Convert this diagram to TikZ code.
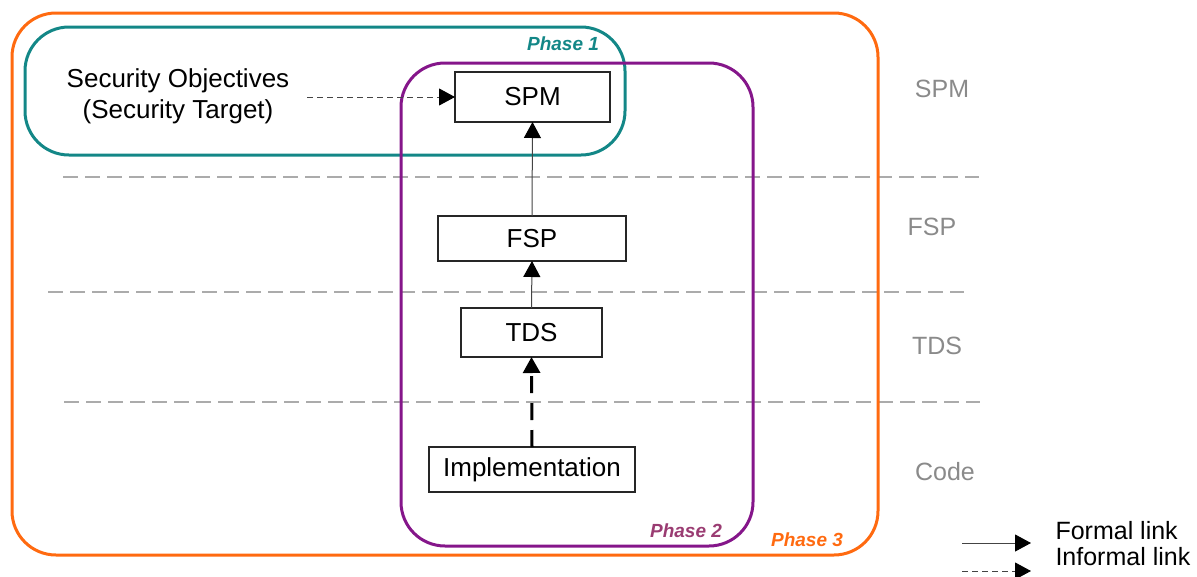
\documentclass[tikz,border=0pt]{standalone}
\usepackage{fontspec}
\setmainfont{Liberation Sans}
\usetikzlibrary{arrows.meta}
\definecolor{cOrange}{HTML}{FF6A10}
\definecolor{cTeal}{HTML}{138787}
\definecolor{cPurple}{HTML}{85168A}
\definecolor{cMauve}{HTML}{9A3C72}
\definecolor{cGrid}{HTML}{ABABAB}
\definecolor{cLabel}{HTML}{8A8A8A}
\definecolor{cLine}{HTML}{444444}
\begin{document}
\begin{tikzpicture}[x=1pt,y=-1pt,
  txt/.style={font=\fontsize{26}{31}\selectfont},
  lgd/.style={font=\fontsize{25}{31}\selectfont},
  levelbox/.style={draw=black!85, line width=1.8pt, fill=white, inner sep=0pt, outer sep=0pt, txt},
  phasebox/.style={line width=3pt, rounded corners=44pt, inner sep=0pt, minimum width=#1},
  phaselbl/.style={font=\fontsize{19}{22}\selectfont\bfseries\itshape},
  lvl/.style={lgd, text=cLabel},
  grid/.style={cGrid, line width=1.3pt, dash pattern=on 15pt off 7pt},
  tip/.style={-{Triangle[length=16pt,width=17pt,fill=black,color=black]}},
  formal/.style={cLine, line width=1pt, tip},
  informal/.style={cLine, line width=1pt, dash pattern=on 6pt off 4pt, tip},
  bigdash/.style={black, line width=3pt, dash pattern=on 17pt off 10pt, -{Triangle[length=16pt,width=17pt]}},
]
\useasboundingbox (0,0) rectangle (1197,576);
% level separators
\coordinate (g1a) at (63,177); \coordinate (g1b) at (979,177);
\coordinate (g2a) at (48,292); \coordinate (g2b) at (964,292);
\coordinate (g3a) at (64,402); \coordinate (g3b) at (980,402);
\draw[grid] (g1a) -- (g1b);
\draw[grid] (g2a) -- (g2b);
\draw[grid] (g3a) -- (g3b);
% phase frames
\node[phasebox=866pt, draw=cOrange, minimum height=542pt] (ph3) at (445,284) {};
\node[phasebox=600pt, draw=cTeal, minimum height=128pt] (ph1) at (325,91) {};
\node[phasebox=352pt, draw=cPurple, minimum height=483pt] (ph2) at (577,304.5) {};
% phase labels
\node[phaselbl, text=cTeal] (l1) at (563,44) {Phase 1};
\node[phaselbl, text=cMauve] (l2) at (686,531) {Phase 2};
\node[phaselbl, text=cOrange] (l3) at (807,540) {Phase 3};
% level labels
\node[lvl] (lspm) at (942,89) {SPM};
\node[lvl] (lfsp) at (932,227) {FSP};
\node[lvl] (ltds) at (937,346) {TDS};
\node[lvl] (lcode) at (945,472) {Code};
% boxes
\node[levelbox, minimum width=155pt, minimum height=50pt] (spm) at (532.5,97) {SPM};
\node[levelbox, minimum width=188pt, minimum height=45pt] (fsp) at (532,238.5) {FSP};
\node[levelbox, minimum width=141pt, minimum height=49pt] (tds) at (531.5,332.5) {TDS};
\node[levelbox, minimum width=206pt, minimum height=45pt] (impl) at (532,469.5) {Implementation};
\node[txt, align=center] (so) at (178,96) {Security Objectives\\(Security Target)};
% links
\coordinate (soend) at (307,97);
\draw[informal] (soend) -- (spm.west);
\draw[formal] (fsp.north) -- (spm.south);
\draw[formal] (tds.north) -- (fsp.south);
\draw[bigdash] (impl.north) -- (tds.south);
% legend
\coordinate (f1) at (962,543); \coordinate (f2) at (1031,543);
\coordinate (i1) at (962,571); \coordinate (i2) at (1031,571);
\draw[formal] (f1) -- (f2);
\draw[informal] (i1) -- (i2);
\node[lgd, anchor=west] (lf) at (1052,531) {Formal link};
\node[lgd, anchor=west] (li) at (1052,557) {Informal link};
\end{tikzpicture}
\end{document}
